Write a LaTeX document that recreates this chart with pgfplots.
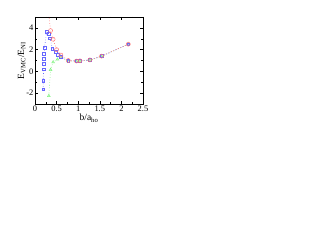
\documentclass[border=0pt]{standalone}
\usepackage{fontspec}
\setmainfont{Liberation Serif}
\usepackage{pgfplots}
\pgfplotsset{compat=1.18}
\definecolor{cblue}{rgb}{0.4,0.4,1}
\definecolor{cred}{rgb}{1,0.45,0.45}
\definecolor{cgreen}{rgb}{0.5,0.95,0.5}
\begin{document}
\begin{tikzpicture}
\useasboundingbox (0,0) rectangle (314bp,243bp);
\begin{axis}[
  at={(35bp,139bp)}, anchor=south west,
  width=108bp, height=87bp, scale only axis,
  xmin=0, xmax=2.5, ymin=-3, ymax=5,
  xtick={0,0.5,1,1.5,2,2.5},
  xticklabels={0,0.5,1,1.5,2,2.5},
  ytick={-2,0,2,4},
  minor x tick num=1, minor y tick num=1,
  tick align=inside,
  major tick length=3bp, minor tick length=1.5bp,
  tick style={black, line width=0.4pt},
  axis line style={line width=0.5pt},
  /pgf/number format/assume math mode=true,
  ticklabel style={font=\fontsize{8.5}{9}\selectfont},
  xticklabel style={yshift=2bp},
  yticklabel style={xshift=2bp},
  xlabel={b/a\textsubscript{ho}},
  ylabel={E\textsubscript{VMC}/E\textsubscript{NI}},
  label style={font=\fontsize{9.5}{10}\selectfont},
  xlabel style={yshift=4bp},
  ylabel style={yshift=-6bp},
  clip=true,
  every axis plot/.append style={line width=0.6pt},
]
\addplot[cgreen, dotted, mark=triangle, mark size=1.6bp, mark options={solid, line width=0.5pt}] coordinates {
(0.32,-2.25) (0.36,0.15) (0.42,0.85) (0.52,1.1) (0.6,1.25)
(0.77,0.95) (0.96,0.92) (1.04,0.95) (1.27,1.02) (1.54,1.38) (2.16,2.5)};
\addplot[cblue, dotted, mark=square, mark size=1.4bp, mark options={solid, line width=0.5pt}] coordinates {
(0.19,-1.65) (0.19,-0.85) (0.2,0.2) (0.2,0.7) (0.21,1.15) (0.21,1.6) (0.22,2.15)
(0.27,3.65) (0.31,3.45) (0.35,3.05) (0.4,2.1) (0.48,1.8) (0.53,1.55) (0.6,1.38)
(0.77,1.0) (0.96,0.95) (1.04,0.97) (1.27,1.05) (1.54,1.4) (2.16,2.5)};
\addplot[cred, dotted, dash phase=1pt, mark=o, mark size=2bp, mark options={solid, line width=0.5pt}] coordinates {
(0.3,6.0) (0.36,3.75) (0.42,2.95) (0.5,2.0) (0.6,1.5)
(0.77,1.0) (0.96,0.95) (1.04,0.97) (1.27,1.05) (1.54,1.4) (2.16,2.5)};
\end{axis}
\end{tikzpicture}
\end{document}
